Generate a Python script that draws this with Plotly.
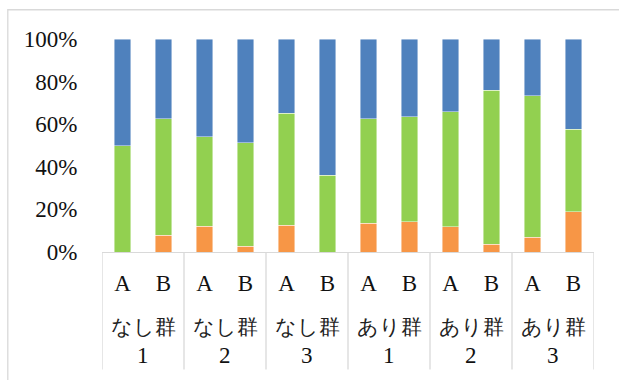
import plotly.graph_objects as go

# Groups and sub-categories on the x axis
groups = ["なし群", "なし群", "なし群", "あり群", "あり群", "あり群"]
group_nums = ["1", "2", "3", "1", "2", "3"]
subcats = ["A", "B"]

# Shares (%) for each bar, in order: group1 A, group1 B, group2 A, ...
orange_vals = [0.0, 7.8, 12.0, 2.7, 12.6, 0.0, 13.6, 14.2, 11.9, 3.6, 7.0, 18.9]
green_vals = [49.8, 54.7, 42.1, 48.5, 52.5, 36.1, 49.0, 49.2, 53.9, 72.3, 66.3, 38.8]
blue_vals = [round(100 - o - g, 1) for o, g in zip(orange_vals, green_vals)]

y_tickvals = [0, 20, 40, 60, 80, 100]
y_ticktext = ["0%", "20%", "40%", "60%", "80%", "100%"]

x_keys = [f"{g}{n}-{s}" for g, n in zip(groups, group_nums) for s in subcats]
x_labels = [s for _ in groups for s in subcats]

SERIF = "Liberation Serif"
GRID = "#d9d9d9"

fig = go.Figure()
for vals, color in [(orange_vals, "#F79646"), (green_vals, "#92D050"), (blue_vals, "#4F81BD")]:
    fig.add_trace(go.Bar(
        x=x_keys, y=vals,
        marker=dict(color=color, line=dict(color="rgba(255,255,255,0.55)", width=0.8)),
        showlegend=False,
    ))

# plot area spans y px 39 (100%) .. 252.3 (0%)
plot_h = 252.3 - 39.0


def paper_y(py):
    return (252.3 - py) / plot_h


shapes = []
# group dividers below the axis
for i in range(len(groups) + 1):
    xpos = -0.5 + 2 * i
    shapes.append(dict(type="line", xref="x", yref="paper",
                       x0=xpos, x1=xpos, y0=0, y1=paper_y(370),
                       line=dict(color=GRID, width=1.3)))
# outer chart frame
shapes.append(dict(type="rect", xref="paper", yref="paper",
                   x0=(7.5 - 101.8) / 492.5, x1=1.2,
                   y0=paper_y(400), y1=paper_y(9.7),
                   line=dict(color=GRID, width=1.3), fillcolor="rgba(0,0,0,0)",
                   layer="below"))

annotations = []
for i, (g, n) in enumerate(zip(groups, group_nums)):
    cx = 0.5 + 2 * i
    annotations.append(dict(x=cx, y=paper_y(327.5), xref="x", yref="paper",
                            text=g, showarrow=False, yanchor="middle",
                            font=dict(family=SERIF, size=21, color="#222")))
    annotations.append(dict(x=cx, y=paper_y(355.7), xref="x", yref="paper",
                            text=n, showarrow=False, yanchor="middle",
                            font=dict(family=SERIF, size=23, color="#111")))

fig.update_layout(
    barmode="stack",
    bargap=0.59,
    width=619, height=380,
    margin=dict(l=101.8, r=619 - 594.3, t=39, b=380 - 252.3),
    paper_bgcolor="white", plot_bgcolor="white",
    shapes=shapes,
    annotations=annotations,
    xaxis=dict(
        type="category",
        tickmode="array", tickvals=x_keys, ticktext=x_labels,
        tickfont=dict(family=SERIF, size=23, color="#111"),
        ticks="outside", ticklen=10, tickcolor="rgba(0,0,0,0)",
        showline=True, linecolor=GRID, linewidth=1.3,
        showgrid=False, zeroline=False,
        range=[-0.5, len(x_keys) - 0.5],
    ),
    yaxis=dict(
        range=[0, 100],
        tickmode="array", tickvals=y_tickvals, ticktext=y_ticktext,
        tickfont=dict(family=SERIF, size=23, color="#111"),
        ticks="outside", ticklen=19, tickcolor="rgba(0,0,0,0)",
        showline=False, showgrid=False, zeroline=False,
    ),
)

fig.write_html("out.html")
